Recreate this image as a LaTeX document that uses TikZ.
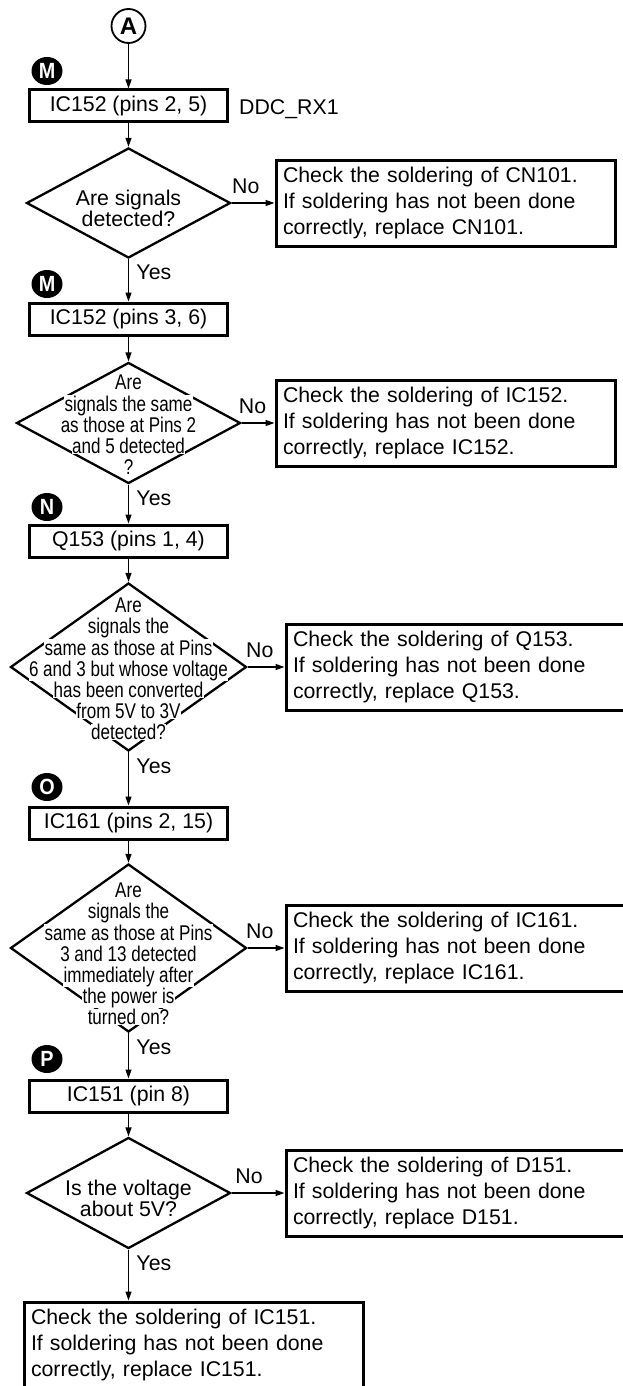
\documentclass[tikz,border=0pt]{standalone}
\usepackage{fontspec}
\setmainfont{Liberation Sans}
\newfontfamily\narrowfont[FakeStretch=0.8]{Liberation Sans}
\newfontfamily\tagfont[FakeStretch=0.9]{Liberation Sans}
\usetikzlibrary{shapes.geometric,arrows.meta}
\setlength{\fboxsep}{0.4pt}
\newcommand\wl[1]{\colorbox{white}{#1}}
\tikzset{
  lbl/.style={font=\fontsize{21.3}{26}\selectfont},
  conn/.style={line width=1.3pt, -{Triangle[length=9pt,width=6pt]}},
  pbox/.style={draw, line width=3pt, minimum width=198pt, minimum height=32pt, inner sep=0pt, font=\fontsize{21.3}{26}\selectfont},
  cbox/.style={draw, line width=3pt, minimum width=339pt, minimum height=86pt, text width=325pt, inner xsep=7pt, inner ysep=0pt, align=left, font=\fontsize{21.3}{26}\selectfont},
  dec/.style={draw, diamond, line width=2.3pt, inner sep=0pt},
  dtext/.style={align=center, inner sep=0pt, font=\fontsize{21.3}{21}\selectfont},
  ntext/.style={align=center, inner sep=0pt, font={\narrowfont\fontsize{21.3}{21.2}\selectfont\lineskiplimit=-20pt}},
  tagdot/.style={ellipse, fill=black, minimum width=31pt, minimum height=28pt, inner sep=0pt, text=white, font=\tagfont\bfseries\fontsize{22}{22}\selectfont},
}
\begin{document}
\begin{tikzpicture}[x=1pt,y=-1pt]
\useasboundingbox (0,0) rectangle (623,1386);
\clip (0,0) rectangle (623,1386);
\fill[white] (0,0) rectangle (623,1386);

% start
\node[draw, circle, line width=1.8pt, minimum size=34pt, inner sep=0pt, font=\bfseries\fontsize{24}{24}\selectfont] (A) at (128.5,26) {A};

% markers
\node[tagdot] (m1) at (47,71) {M};
\node[tagdot] (m2) at (47,284) {M};
\node[tagdot] (n1) at (47,507) {N};
\node[tagdot] (o1) at (47,787) {O};
\node[tagdot] (p1) at (47,1059) {P};

% process boxes
\node[pbox] (b1) at (128.5,106) {IC152 (pins 2, 5)};
\node[lbl, anchor=base west, inner sep=0pt] (ddc) at (239,115) {DDC\_RX1};
\node[pbox] (b2) at (128.5,319) {IC152 (pins 3, 6)};
\node[pbox] (b3) at (128.5,541) {Q153 (pins 1, 4)};
\node[pbox] (b4) at (128.5,823) {IC161 (pins 2, 15)};
\node[pbox] (b5) at (128.5,1096) {IC151 (pin 8)};

% decisions
\node[dec, minimum width=204pt, minimum height=110pt] (d1) at (128.5,203) {};
\node[dtext] (t1) at (128.5,208) {Are signals\\detected?};

\node[dec, minimum width=224pt, minimum height=121pt] (d2) at (128.5,423) {};
\node[ntext] (t2) at (128.5,425) {\wl{Are}\\\wl{signals the same}\\\wl{as those at Pins 2}\\\wl{and 5 detected}\\\wl{?}};

\node[dec, minimum width=236pt, minimum height=168pt] (d3) at (128.5,667) {};
\node[ntext] (t3) at (128.5,669) {\wl{Are}\\\wl{signals the}\\\wl{same as those at Pins}\\\wl{6 and 3 but whose voltage}\\\wl{has been converted}\\\wl{from 5V to 3V}\\\wl{detected?}};

\node[dec, minimum width=236pt, minimum height=168pt] (d4) at (128.5,948) {};
\node[ntext] (t4) at (128.5,954) {\wl{Are}\\\wl{signals the}\\\wl{same as those at Pins}\\\wl{3 and 13 detected}\\\wl{immediately after}\\\wl{the power is}\\\wl{turned on?}};

\node[dec, minimum width=204pt, minimum height=111pt] (d5) at (128.5,1193) {};
\node[dtext] (t5) at (128.5,1198) {Is the voltage\\about 5V?};

% result boxes
\node[cbox] (r1) at (445.5,203) {Check the soldering of CN101.\\If soldering has not been done\\correctly, replace CN101.};
\node[cbox] (r2) at (445.5,423) {Check the soldering of IC152.\\If soldering has not been done\\correctly, replace IC152.};
\node[cbox] (r3) at (455.5,667) {Check the soldering of Q153.\\If soldering has not been done\\correctly, replace Q153.};
\node[cbox] (r4) at (455.5,948) {Check the soldering of IC161.\\If soldering has not been done\\correctly, replace IC161.};
\node[cbox] (r5) at (455.5,1193) {Check the soldering of D151.\\If soldering has not been done\\correctly, replace D151.};
\node[cbox] (rl) at (193.5,1345) {Check the soldering of IC151.\\If soldering has not been done\\correctly, replace IC151.};

% main flow
\draw[conn] (A.south) -- (b1.north);
\draw[conn] (b1.south) -- (d1.north);
\draw[conn] (d1.south) -- node[lbl, right=4pt, pos=0.31]{Yes} (b2.north);
\draw[conn] (b2.south) -- (d2.north);
\draw[conn] (d2.south) -- node[lbl, right=4pt, pos=0.36]{Yes} (b3.north);
\draw[conn] (b3.south) -- (d3.north);
\draw[conn] (d3.south) -- node[lbl, right=4pt, pos=0.27]{Yes} (b4.north);
\draw[conn] (b4.south) -- (d4.north);
\draw[conn] (d4.south) -- node[lbl, right=4pt, pos=0.32]{Yes} (b5.north);
\draw[conn] (b5.south) -- (d5.north);
\draw[conn] (d5.south) -- node[lbl, right=4pt, pos=0.27]{Yes} (d5.south |- rl.north);

% No branches
\draw[conn] (d1.east) -- node[lbl, above=5pt, pos=0.33]{No} (r1.west);
\draw[conn] (d2.east) -- node[lbl, above=5pt, pos=0.33]{No} (r2.west);
\draw[conn] (d3.east) -- node[lbl, above=5pt, pos=0.33]{No} (r3.west);
\draw[conn] (d4.east) -- node[lbl, above=5pt, pos=0.33]{No} (r4.west);
\draw[conn] (d5.east) -- node[lbl, above=5pt, pos=0.33]{No} (r5.west);
\end{tikzpicture}
\end{document}
